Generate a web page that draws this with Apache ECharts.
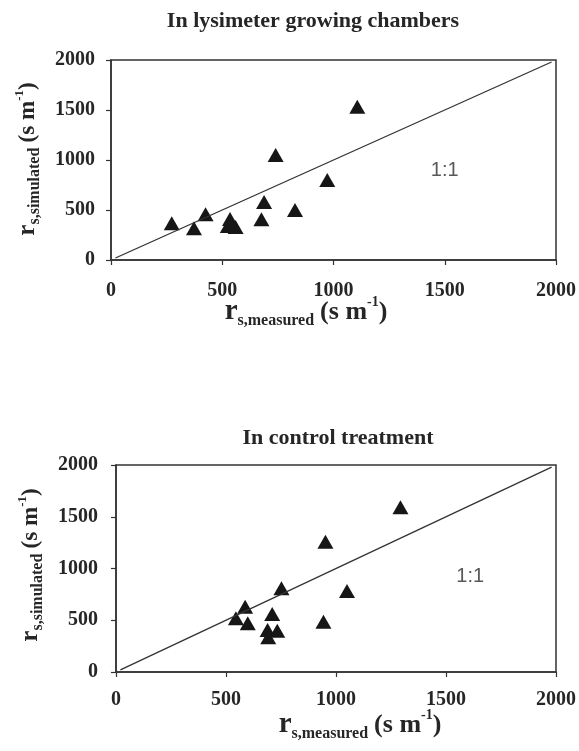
<!DOCTYPE html>
<html>
<head>
<meta charset="utf-8">
<script src="https://cdn.jsdelivr.net/npm/echarts@6/dist/echarts.min.js"></script>
<style>html,body{margin:0;padding:0;background:#fff;}#c{width:579px;height:751px;}</style>
</head>
<body>
<div id="c"></div>
<script>
// ---- data ----
const lysMeasured  = [273, 373, 425, 525, 535, 560, 676, 688, 740, 827, 972, 1107];
const lysSimulated = [367, 317, 457, 340, 410, 330, 407, 580, 1050, 500, 800, 1533];
const ctrlMeasured  = [545, 587, 599, 689, 692, 710, 733, 752, 943, 952, 1050, 1293];
const ctrlSimulated = [519, 631, 470, 406, 335, 560, 399, 809, 486, 1259, 783, 1591];
const oneToOne = [[20, 20], [1980, 1980]];
const labelPos1 = [1500, 900];
const labelPos2 = [1610, 920];
const axisMin = 0, axisMax = 2000, axisStep = 500;
const title1 = 'In lysimeter growing chambers';
const title2 = 'In control treatment';

const serif = '"Liberation Serif", "DejaVu Serif", serif';
const ink = '#262626';

function pairs(xs, ys) { return xs.map((x, i) => [x, ys[i]]); }

function axisCommon(margin) {
  return {
    type: 'value', min: axisMin, max: axisMax, interval: axisStep,
    axisLine: { show: true, lineStyle: { color: '#333', width: 1.5 } },
    axisTick: { show: true, inside: false, length: 5, lineStyle: { color: '#333', width: 1.2 } },
    splitLine: { show: false },
    axisLabel: { margin: margin, formatter: function (v) { return String(v); },
      fontFamily: serif, fontWeight: 'bold', fontSize: 20, color: ink }
  };
}

const richX = {
  r: { fontFamily: serif, fontWeight: 'bold', fontSize: 29, lineHeight: 34, verticalAlign: 'middle', fill: ink, color: ink },
  sub: { fontFamily: serif, fontWeight: 'bold', fontSize: 16, lineHeight: 16, verticalAlign: 'bottom', fill: ink, color: ink },
  m: { fontFamily: serif, fontWeight: 'bold', fontSize: 26, lineHeight: 34, verticalAlign: 'middle', fill: ink, color: ink },
  sup: { fontFamily: serif, fontWeight: 'bold', fontSize: 14, lineHeight: 14, verticalAlign: 'top', fill: ink, color: ink }
};
const richY = {
  r: { fontFamily: serif, fontWeight: 'bold', fontSize: 25, lineHeight: 30, verticalAlign: 'middle', fill: ink, color: ink },
  sub: { fontFamily: serif, fontWeight: 'bold', fontSize: 16, lineHeight: 16, verticalAlign: 'bottom', fill: ink, color: ink },
  m: { fontFamily: serif, fontWeight: 'bold', fontSize: 23, lineHeight: 30, verticalAlign: 'middle', fill: ink, color: ink },
  sup: { fontFamily: serif, fontWeight: 'bold', fontSize: 13, lineHeight: 13, verticalAlign: 'top', fill: ink, color: ink }
};
const xNameText = '{r|r}{sub|s,measured} {m|(s m}{sup|-1}{m|)}';
const yNameText = '{r|r}{sub|s,simulated} {m|(s m}{sup|-1}{m|)}';

function textEl(x, y, text, size, rot, rich) {
  const st = { text: text, align: 'center', verticalAlign: 'middle', fill: ink,
    font: 'bold ' + size + 'px ' + serif };
  if (rich) st.rich = rich;
  return { type: 'text', x: x, y: y, rotation: rot || 0, style: st, z: 10 };
}

const markerStyle = { color: '#161616', opacity: 1 };
const oneLabel = { show: true, position: 'inside', formatter: '1:1',
  fontFamily: '"Liberation Sans", Arial, sans-serif', fontSize: 20, color: '#2e2e2e' };

const chart = echarts.init(document.getElementById('c'), null, { renderer: 'canvas' });
chart.setOption({
  backgroundColor: '#ffffff',
  animation: false,
  grid: [
    { left: 111, top: 60, width: 446, height: 200, show: true, borderColor: '#333', borderWidth: 1.5, backgroundColor: 'transparent' },
    { left: 116, top: 465, width: 444, height: 207, show: true, borderColor: '#333', borderWidth: 1.5, backgroundColor: 'transparent' }
  ],
  xAxis: [
    Object.assign(axisCommon(21), { gridIndex: 0 }),
    Object.assign(axisCommon(18), { gridIndex: 1 })
  ],
  yAxis: [
    Object.assign(axisCommon(16), { gridIndex: 0 }),
    Object.assign(axisCommon(18), { gridIndex: 1 })
  ],
  series: [
    { type: 'line', xAxisIndex: 0, yAxisIndex: 0, data: oneToOne, symbol: 'none', lineStyle: { color: '#333', width: 1.3 } },
    { type: 'line', xAxisIndex: 1, yAxisIndex: 1, data: oneToOne, symbol: 'none', lineStyle: { color: '#333', width: 1.3 } },
    { type: 'scatter', xAxisIndex: 0, yAxisIndex: 0, data: pairs(lysMeasured, lysSimulated), symbol: 'triangle', symbolSize: [16, 14], itemStyle: markerStyle },
    { type: 'scatter', xAxisIndex: 1, yAxisIndex: 1, data: pairs(ctrlMeasured, ctrlSimulated), symbol: 'triangle', symbolSize: [16, 14], itemStyle: markerStyle },
    { type: 'scatter', xAxisIndex: 0, yAxisIndex: 0, data: [labelPos1], symbolSize: 0, silent: true, label: oneLabel },
    { type: 'scatter', xAxisIndex: 1, yAxisIndex: 1, data: [labelPos2], symbolSize: 0, silent: true, label: oneLabel }
  ],
  graphic: [
    textEl(313, 21, title1, 22),
    textEl(338, 438, title2, 22),
    textEl(306, 312, xNameText, 24, 0, richX),
    textEl(360, 725, xNameText, 24, 0, richX),
    textEl(28, 159, yNameText, 21, Math.PI / 2, richY),
    textEl(31, 565, yNameText, 21, Math.PI / 2, richY)
  ]
});
</script>
</body>
</html>
